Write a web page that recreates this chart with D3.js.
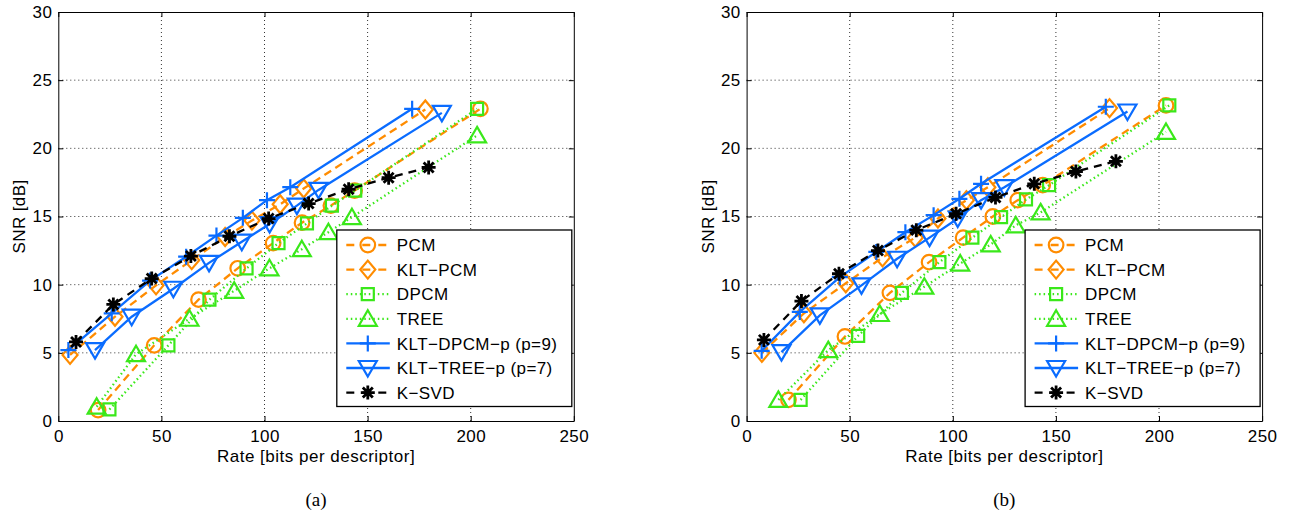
<!DOCTYPE html>
<html>
<head>
<meta charset="utf-8">
<script src="https://cdn.jsdelivr.net/npm/d3@7"></script>
<style>
  body { margin: 0; background: #fff; }
  svg text { font-family: "Liberation Sans", Arial, Helvetica, sans-serif; }
</style>
</head>
<body>
<svg id="chart" width="1289" height="516"></svg>
<script>
// ---- data ----
var rateTicks = [0, 50, 100, 150, 200, 250];
var snrTicks = [0, 5, 10, 15, 20, 25, 30];
var seriesNames = ["PCM", "KLT\u2212PCM", "DPCM", "TREE", "KLT\u2212DPCM\u2212p (p=9)", "KLT\u2212TREE\u2212p (p=7)", "K\u2212SVD"];
var captions = ["(a)", "(b)"];

// panel (a): [rate, snr]
var pcmA = [[19.3,0.8],[46.5,5.55],[68,8.9],[87,11.2],[104.2,13.05],[118.2,14.55],[132.2,15.8],[143.7,16.9],[204.7,22.9]];
var kltPcmA = [[5.7,4.85],[27.5,7.65],[47.4,9.95],[64.7,11.8],[80.9,13.5],[93.9,14.7],[107.6,15.9],[119,17.05],[178,22.85]];
var dpcmA = [[24.8,0.85],[53.4,5.55],[73.3,8.9],[91.3,11.2],[106.8,13.05],[120.6,14.5],[132.7,15.8],[144,16.9],[203.1,22.9]];
var treeA = [[18.6,1.05],[37.7,4.9],[63.6,7.5],[85.3,9.55],[102.4,11.2],[118.1,12.6],[131,13.85],[142.4,14.95],[203.1,20.95]];
var kltDpcmA = [[4.9,5.2],[25.9,7.9],[44.5,10.3],[62,12.05],[76.7,13.6],[89.5,14.9],[101.2,16.2],[112.5,17.15],[171.6,22.9]];
var kltTreeA = [[17.8,5.2],[35.6,7.65],[55.8,9.7],[73.1,11.6],[89,13.15],[102.5,14.45],[115.7,15.8],[126.2,16.95],[186,22.6]];
var ksvdA = [[8.6,5.8],[26.7,8.55],[45.3,10.45],[64.3,12.1],[83,13.55],[102,14.85],[121.4,15.95],[140.8,17],[160.2,17.85],[179.6,18.6]];

// panel (b)
var pcmB = [[20.3,1.55],[47.7,6.2],[69.5,9.4],[88.5,11.65],[105,13.45],[119.4,15],[131.5,16.2],[143.6,17.3],[203.4,23.15]];
var kltPcmB = [[7.4,5],[27.8,7.9],[48.1,10.1],[65.9,12],[81.8,13.45],[92.8,14.85],[106.6,16.2],[117,17.15],[176,22.95]];
var dpcmB = [[26.2,1.55],[54.1,6.25],[75.3,9.4],[93.5,11.65],[109.5,13.45],[123.4,14.95],[135.5,16.25],[146.7,17.3],[205,23.15]];
var treeB = [[15.4,1.55],[39.6,5.2],[64.6,7.85],[86.2,9.85],[103.6,11.55],[118.4,12.95],[130.5,14.35],[142.6,15.3],[203.4,21.2]];
var kltDpcmB = [[7.3,5.15],[25.8,8],[45.2,10.55],[62.9,12.4],[77,13.85],[90.7,15.1],[103.2,16.3],[113.7,17.4],[174.2,23.05]];
var kltTreeB = [[16.9,5.05],[35.5,7.75],[55.7,9.95],[73,11.9],[88.7,13.45],[102.4,14.85],[113.7,16.2],[125,17.15],[184.7,22.7]];
var ksvdB = [[8.4,5.95],[26.6,8.8],[44.8,10.8],[63.7,12.5],[82.3,14],[101.6,15.2],[120.7,16.4],[139.5,17.4],[159.7,18.3],[179.1,19.05]];

var panelA = [pcmA, kltPcmA, dpcmA, treeA, kltDpcmA, kltTreeA, ksvdA];
var panelB = [pcmB, kltPcmB, dpcmB, treeB, kltDpcmB, kltTreeB, ksvdB];

// ---- styles ----
var ORANGE = "#ff8c00", GREEN = "#3ae81a", BLUE = "#0a6cff";
var styles = [
    {color: ORANGE, dash: "8,5", marker: "circle"},
    {color: ORANGE, dash: "8,5", marker: "diamond"},
    {color: GREEN, dash: "1.5,3", marker: "square"},
    {color: GREEN, dash: "1.5,3", marker: "triUp"},
    {color: BLUE, dash: null, marker: "plus"},
    {color: BLUE, dash: null, marker: "triDown"},
    {color: "#000", dash: "8,6", marker: "star"}
];

var PLOT_W = 515.5, PLOT_H = 409, PLOT_TOP = 12;
var svg = d3.select("#chart");

function markerPath(type){
    var p = d3.path();
    if(type=="circle"){ p.arc(0,0,7.3,0,2*Math.PI); }
    else if(type=="diamond"){ p.moveTo(0,-9); p.lineTo(7.5,0); p.lineTo(0,9); p.lineTo(-7.5,0); p.closePath(); }
    else if(type=="square"){ p.rect(-6,-6,12,12); }
    else if(type=="triUp"){ p.moveTo(0,-8.5); p.lineTo(9,7); p.lineTo(-9,7); p.closePath(); }
    else if(type=="triDown"){ p.moveTo(0,8.5); p.lineTo(9,-7); p.lineTo(-9,-7); p.closePath(); }
    else if(type=="plus"){ p.moveTo(-8,0); p.lineTo(8,0); p.moveTo(0,-8); p.lineTo(0,8); }
    else if(type=="star"){
        p.moveTo(-7,0); p.lineTo(7,0); p.moveTo(0,-7); p.lineTo(0,7);
        p.moveTo(-5,-5); p.lineTo(5,5); p.moveTo(-5,5); p.lineTo(5,-5);
    }
    return p.toString();
}

function drawMarker(sel, type, color){
    sel.append("path")
        .attr("d", markerPath(type))
        .attr("fill", "none")
        .attr("stroke", color)
        .attr("stroke-width", type=="star" ? 2.8 : 2.2);
}

function drawPanel(left, series, caption){
    var x = d3.scaleLinear().domain([0,250]).range([0, PLOT_W]);
    var y = d3.scaleLinear().domain([0,30]).range([PLOT_H, 0]);
    var g = svg.append("g").attr("transform","translate("+left+","+PLOT_TOP+")");

    // dotted grid
    g.append("g").selectAll("line.gx").data(rateTicks.slice(1,-1)).enter().append("line")
        .attr("x1",function(d){return x(d)}).attr("x2",function(d){return x(d)})
        .attr("y1",0).attr("y2",PLOT_H)
        .attr("stroke","#333").attr("stroke-width",1).attr("stroke-dasharray","1,3");
    g.append("g").selectAll("line.gy").data(snrTicks.slice(1,-1)).enter().append("line")
        .attr("y1",function(d){return y(d)}).attr("y2",function(d){return y(d)})
        .attr("x1",0).attr("x2",PLOT_W)
        .attr("stroke","#333").attr("stroke-width",1).attr("stroke-dasharray","1,3");

    // axes, ticks pointing in like matlab
    var fontCss = "17px";
    g.append("g").attr("transform","translate(0,"+PLOT_H+")")
        .call(d3.axisBottom(x).tickValues(rateTicks).tickSizeInner(-5).tickSizeOuter(0).tickPadding(9));
    g.append("g")
        .call(d3.axisLeft(y).tickValues(snrTicks).tickSizeInner(-5).tickSizeOuter(0).tickPadding(6));
    g.append("g").call(d3.axisTop(x).tickValues(rateTicks).tickSizeInner(-5).tickSizeOuter(0).tickFormat(""));
    g.append("g").attr("transform","translate("+PLOT_W+",0)")
        .call(d3.axisRight(y).tickValues(snrTicks).tickSizeInner(-5).tickSizeOuter(0).tickFormat(""));
    g.selectAll(".domain").attr("stroke","#000");
    g.selectAll(".tick line").attr("stroke","#000");
    g.selectAll(".tick text")
        .attr("fill","#000")
        .style("font-family","'Liberation Sans', Arial, sans-serif")
        .style("font-size",fontCss)
        .style("letter-spacing","0.4px");

    g.append("text")
        .attr("x",PLOT_W/2).attr("y",PLOT_H+41)
        .attr("text-anchor","middle")
        .style("font-size",fontCss).style("letter-spacing","0.5px")
        .text("Rate [bits per descriptor]");
    g.append("text")
        .attr("transform","translate(-33,"+(PLOT_H/2)+") rotate(-90)")
        .attr("text-anchor","middle")
        .style("font-size",fontCss).style("letter-spacing","0.4px")
        .text("SNR [dB]");

    // series
    var line = d3.line().x(function(d){return x(d[0])}).y(function(d){return y(d[1])});
    series.forEach(function(pts, i){
        var st = styles[i];
        var s = g.append("g");
        s.append("path").datum(pts)
            .attr("d", line)
            .attr("fill","none")
            .attr("stroke", st.color)
            .attr("stroke-width", 2.3)
            .attr("stroke-dasharray", st.dash);
        s.selectAll("g.mk").data(pts).enter().append("g")
            .attr("transform", function(d){return "translate("+x(d[0])+","+y(d[1])+")"})
            .each(function(){ drawMarker(d3.select(this), st.marker, st.color); });
    });

    // legend
    var LW = 235, ROW = 24.6;
    var lg = g.append("g").attr("transform","translate("+(PLOT_W-2-LW)+","+(230-PLOT_TOP)+")");
    lg.append("rect").attr("width",LW).attr("height",176.5)
        .attr("fill","#fff").attr("stroke","#000").attr("stroke-width",1.3);
    seriesNames.forEach(function(name, i){
        var st = styles[i];
        var row = lg.append("g").attr("transform","translate(0,"+(15+i*ROW)+")");
        row.append("line").attr("x1",9.5).attr("x2",53).attr("y1",0).attr("y2",0)
            .attr("stroke",st.color).attr("stroke-width",2.3)
            .attr("stroke-dasharray", st.dash==null ? null : (st.dash=="1.5,3" ? "1.5,3" : "8,8"));
        var m = row.append("g").attr("transform","translate(31,0)");
        drawMarker(m, st.marker, st.color);
        row.append("text").attr("x",60).attr("y",0).attr("dy","0.36em")
            .style("font-size",fontCss).style("letter-spacing","0.4px")
            .text(name);
    });

    svg.append("text")
        .attr("x", left + PLOT_W/2).attr("y", 506)
        .attr("text-anchor","middle")
        .style("font-family","'Liberation Serif', 'Times New Roman', serif")
        .style("font-size","19px")
        .text(caption);
}

drawPanel(58.3, panelA, captions[0]);
drawPanel(746.6, panelB, captions[1]);
</script>
</body>
</html>
